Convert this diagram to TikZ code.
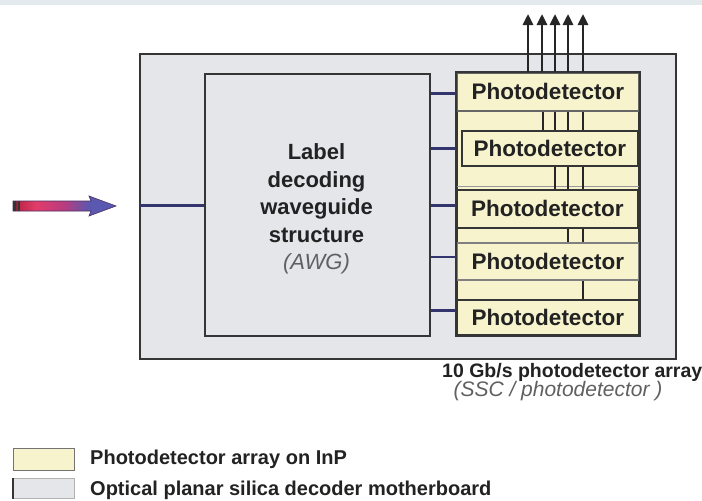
\documentclass[tikz,border=0pt]{standalone}
\usepackage{fontspec}
\setmainfont{Liberation Sans}
\usetikzlibrary{arrows.meta,calc}
\definecolor{mbgray}{HTML}{E4E6EA}
\definecolor{pdyellow}{HTML}{F6F3CD}
\definecolor{wgblue}{HTML}{34346F}
\definecolor{edgec}{HTML}{353535}
\definecolor{topband}{HTML}{E3EAEE}
\definecolor{txt}{HTML}{222222}
\definecolor{subtxt}{HTML}{606060}
\definecolor{arrdark}{HTML}{5A1828}
\definecolor{arrred}{HTML}{C02848}
\definecolor{arrmid}{HTML}{E23C6A}
\definecolor{arrmix}{HTML}{B83C80}
\definecolor{arrblue}{HTML}{5A58B0}
\definecolor{arredge}{HTML}{4A3060}
\pgfdeclarehorizontalshading{inarrow}{100bp}{color(0bp)=(arrdark); color(25bp)=(arrdark); color(28bp)=(arrred); color(36bp)=(arrmid); color(50bp)=(arrmix); color(62bp)=(arrblue); color(75bp)=(arrblue); color(100bp)=(arrblue)}
\begin{document}
\begin{tikzpicture}[x=1pt,y=-1pt,
  board/.style={draw=edgec,fill=mbgray,line width=2.4pt,anchor=north west,inner sep=0pt},
  awgbox/.style={draw=edgec,fill=mbgray,line width=1.8pt,anchor=north west,inner sep=0pt},
  arraybox/.style={draw=edgec,fill=pdyellow,line width=1.8pt,anchor=north west,inner sep=0pt},
  pdbox/.style={draw=edgec,line width=1.5pt,anchor=north west,inner sep=0pt,
    font=\fontsize{22.5}{26}\selectfont\bfseries,text=txt},
  wg/.style={draw=black!85,line width=2.6pt},
  outarrow/.style={draw=black!85,line width=2.6pt,-{Triangle[length=11pt,width=10pt]}},
  link/.style={draw=wgblue,line width=3pt},
  legtext/.style={anchor=west,inner sep=0pt,font=\fontsize{20}{24}\selectfont\bfseries,text=txt},
  swatch/.style={anchor=north west,inner sep=0pt,minimum width=61pt}
]
\useasboundingbox (0,0) rectangle (702,501);
\fill[white] (0,0) rectangle (702,501);
\fill[topband] (0,0) rectangle (702,5);

% motherboard
\node[board,minimum width=536pt,minimum height=305pt] (mb) at (139,53) {};
% AWG
\node[awgbox,minimum width=225pt,minimum height=262pt] (awg) at (204,73) {};
\node[align=center,inner sep=0pt,font=\fontsize{22}{27.5}\selectfont\bfseries,text=txt] (awgl) at (316.5,209)
  {Label\\decoding\\waveguide\\structure\\{\mdseries\itshape\color{subtxt}(AWG)}};

% photodetector array
\node[arraybox,minimum width=182pt,minimum height=262pt] (arr) at (456,72) {};
\draw[black!40,line width=1pt] (arr.west |- 0,186) -- (arr.east |- 0,186);
\node[pdbox,minimum width=182pt,minimum height=38pt,draw=black!60] (pd1) at (456,72) {Photodetector};
\node[pdbox,minimum width=176pt,minimum height=35pt] (pd2) at (461,130) {Photodetector};
\node[pdbox,minimum width=181pt,minimum height=38pt] (pd3) at (456,189) {Photodetector};
\node[pdbox,minimum width=182pt,minimum height=37pt,draw=black!50] (pd4) at (456,242) {Photodetector};
\node[pdbox,minimum width=182pt,minimum height=35pt] (pd5) at (456,299) {Photodetector};
\draw[edgec,line width=1.8pt] (arr.north west) rectangle (arr.south east);

% vertical waveguides between detectors
\foreach \x in {543,555,568,583} \draw[wg] (\x,0 |- pd1.south) -- (\x,0 |- pd2.north);
\foreach \x in {555,568,583} \draw[wg] (\x,0 |- pd2.south) -- (\x,0 |- pd3.north);
\foreach \x in {568,583} \draw[wg] (\x,0 |- pd3.south) -- (\x,0 |- pd4.north);
\foreach \x in {583} \draw[wg] (\x,0 |- pd4.south) -- (\x,0 |- pd5.north);

% output arrows
\foreach \x [count=\i] in {528,542,555,568,583} {
  \coordinate (out\i) at (\x,14);
  \draw[outarrow] (\x,0 |- arr.north) -- (out\i);
}

% AWG to detectors
\foreach \y/\w in {93/3pt,148/3pt,205/3pt,257/1.6pt,310/3pt}
  \draw[link,line width=\w] (awg.east |- 0,\y) -- (arr.west |- 0,\y);

% input
\draw[link] (mb.west |- 0,205) -- (awg.west |- 0,205);
\shade[shading=inarrow]
  (13,201) -- (91,201) -- (89,196) -- (116,206) -- (89,216) -- (91,211) -- (13,211) -- cycle;
\draw[arredge,line width=0.6pt]
  (13,201) -- (91,201) -- (89,196) -- (116,206) -- (89,216) -- (91,211) -- (13,211) -- cycle;
\draw[black!80,line width=1.5pt] (15,201) -- (15,211);
\draw[black!80,line width=1.2pt] (19,201) -- (19,211);

% captions
\node[legtext,font=\fontsize{19.5}{24}\selectfont\bfseries] (cap1) at (442,372) {10 Gb/s photodetector array};
\node[inner sep=0pt,font=\fontsize{21}{24}\selectfont\itshape,text=subtxt] (cap2) at (558,391) {(SSC / photodetector )};

% legend
\node[swatch,draw=black!55,fill=pdyellow,line width=1pt,minimum height=22pt] (lg1) at (13,448) {};
\node[swatch,draw=black!30,fill=mbgray,line width=0.8pt,minimum height=20pt] (lg2) at (13,478) {};
\draw[edgec,line width=1.6pt] (lg2.north west) -- (lg2.south west);
\node[legtext] (lt1) at (90,459) {Photodetector array on InP};
\node[legtext] (lt2) at (90,490) {Optical planar silica decoder motherboard};
\end{tikzpicture}
\end{document}
